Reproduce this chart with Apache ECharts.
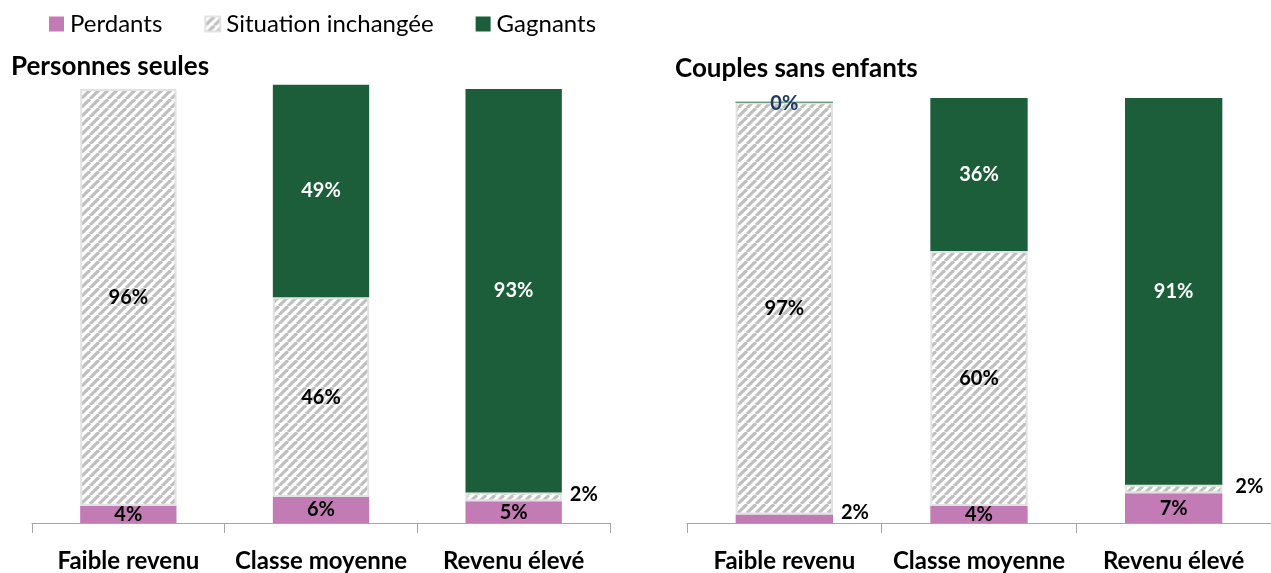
<!DOCTYPE html>
<html><head><meta charset="utf-8">
<script src="https://cdn.jsdelivr.net/npm/echarts@6/dist/echarts.min.js"></script>
<style>html,body{margin:0;padding:0;background:#fff}#c{width:1271px;height:573px}</style>
</head><body><div id="c"></div>
<script>
const categories = ['Faible revenu', 'Classe moyenne', 'Revenu élevé'];
const seriesNames = ['Perdants', 'Situation inchangée', 'Gagnants'];
const panelTitles = ['Personnes seules', 'Couples sans enfants'];
// Personnes seules
const seulesPerdants = [4, 6, 5];
const seulesInchangee = [96, 46, 2];
const seulesGagnants = [0, 49, 93];
// Couples sans enfants
const couplesPerdants = [2, 4, 7];
const couplesInchangee = [97, 60, 2];
const couplesGagnants = [0, 36, 91];

const PINK = '#c27bb4', GREEN = '#1b5e39', FONT = 'Lato';

function hatch() {
  const s = 9, c = document.createElement('canvas');
  c.width = s; c.height = s;
  const g = c.getContext('2d');
  g.fillStyle = '#fff'; g.fillRect(0, 0, s, s);
  g.strokeStyle = '#bfbfbf'; g.lineWidth = 3.2;
  for (const o of [-s, 0, s]) {
    g.beginPath(); g.moveTo(o, s); g.lineTo(o + s, 0); g.stroke();
  }
  return { image: c, repeat: 'repeat' };
}
const HATCH = hatch();

const lbl = (color) => ({
  show: true, position: 'inside', color: color,
  fontFamily: FONT, fontWeight: 'bold', fontSize: 20,
  formatter: p => p.value + '%'
});

function build(vals, idx, panel) {
  const cfg = [
    { color: PINK, labelColor: '#000', border: PINK },
    { color: HATCH, labelColor: '#000', border: '#e2e2e2' },
    { color: GREEN, labelColor: '#fff', border: GREEN }
  ][idx];
  const data = vals.map((v, i) => {
    const d = { value: v };
    if (v === 0) {
      if (panel === 1 && idx === 2) {
        d.label = { show: true, position: 'inside', color: '#1f3864', offset: [0, 1] };
        d.itemStyle = { borderColor: '#5e9c76', borderWidth: 1 };
      } else d.label = { show: false };
    } else if (v <= 2) {
      d.label = {
        show: true, position: 'right', color: '#000',
        distance: (panel === 1 && idx === 1) ? 13 : 8,
        offset: [0, idx === 0 ? -6 : -2]
      };
    }
    return d;
  });
  return {
    name: seriesNames[idx], type: 'bar', stack: 'p' + panel,
    xAxisIndex: panel, yAxisIndex: panel, barWidth: '50%',
    clip: false,
    itemStyle: { color: cfg.color, borderColor: cfg.border, borderWidth: idx === 1 ? 2 : 0 },
    label: lbl(cfg.labelColor),
    emphasis: { disabled: true },
    data: data
  };
}

const grids = [
  { left: 32, width: 578, top: 89, height: 436 },
  { left: 687, width: 585, top: 98, height: 429 }
];

const option = {
  animation: false,
  legend: {
    left: 44, top: 7, itemWidth: 15, itemHeight: 15, itemGap: 42,
    icon: 'rect', selectedMode: false,
    textStyle: { fontFamily: FONT, fontSize: 24, color: '#000', padding: [0, 0, 0, 1] },
    data: seriesNames
  },
  title: [
    { text: panelTitles[0], left: 6, top: 49, textStyle: { fontFamily: FONT, fontWeight: 'bold', fontSize: 26, color: '#000' } },
    { text: panelTitles[1], left: 670, top: 51, textStyle: { fontFamily: FONT, fontWeight: 'bold', fontSize: 26, color: '#000' } }
  ],
  grid: grids,
  xAxis: [0, 1].map(i => ({
    type: 'category', gridIndex: i, data: categories,
    axisLine: { lineStyle: { color: '#a6a6a6', width: 1 } },
    axisTick: { show: true, length: 10, lineStyle: { color: '#a6a6a6' } },
    axisLabel: { interval: 0, margin: 26, color: '#000', fontFamily: FONT, fontWeight: 'bold', fontSize: 24 }
  })),
  yAxis: [0, 1].map(i => ({
    type: 'value', gridIndex: i, min: 0, max: 100, show: false, splitLine: { show: false }
  })),
  series: [
    build(seulesPerdants, 0, 0), build(seulesInchangee, 1, 0), build(seulesGagnants, 2, 0),
    build(couplesPerdants, 0, 1), build(couplesInchangee, 1, 1), build(couplesGagnants, 2, 1)
  ]
};
echarts.init(document.getElementById('c'), null, { renderer: 'canvas' }).setOption(option);
</script></body></html>
